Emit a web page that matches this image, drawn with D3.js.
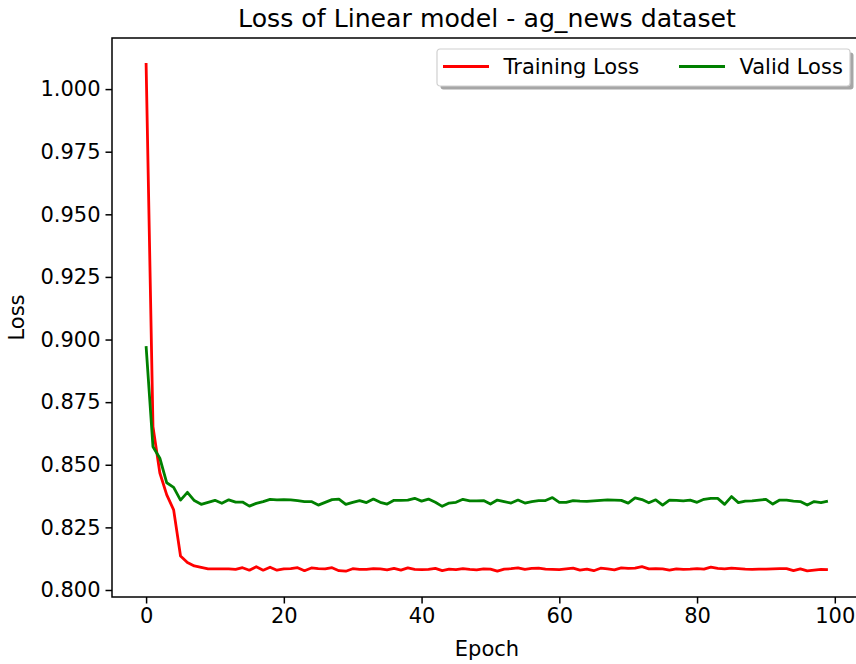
<!DOCTYPE html>
<html>
<head>
<meta charset="utf-8">
<script src="https://cdn.jsdelivr.net/npm/d3@7"></script>
<style>
    html, body { margin: 0; background: #fff; overflow: hidden; width: 856px; height: 664px; }
    .container { width: 856px; height: 664px; overflow: hidden; }
    svg { display: block; overflow: hidden; }
    text { font-family: "DejaVu Sans", sans-serif; fill: #000; }
</style>
</head>
<body>
<div class="container"></div>
<script>
// loss per epoch
let trainLoss = [1.0104, 0.8652, 0.8467, 0.8380, 0.8320, 0.8136, 0.8110, 0.8096, 0.8090, 0.8084,
    0.8084, 0.8084, 0.8084, 0.8082, 0.8089, 0.8079, 0.8093, 0.8079, 0.8091, 0.8079,
    0.8084, 0.8085, 0.8089, 0.8077, 0.8088, 0.8085, 0.8084, 0.8089, 0.8077, 0.8075,
    0.8085, 0.8082, 0.8082, 0.8085, 0.8084, 0.8080, 0.8086, 0.8079, 0.8088, 0.8082,
    0.8081, 0.8082, 0.8086, 0.8077, 0.8083, 0.8081, 0.8085, 0.8082, 0.8080, 0.8084,
    0.8083, 0.8075, 0.8083, 0.8085, 0.8088, 0.8082, 0.8086, 0.8087, 0.8083, 0.8082,
    0.8081, 0.8084, 0.8087, 0.8079, 0.8083, 0.8077, 0.8087, 0.8084, 0.8080, 0.8088,
    0.8086, 0.8087, 0.8093, 0.8084, 0.8085, 0.8084, 0.8079, 0.8084, 0.8082, 0.8083,
    0.8085, 0.8083, 0.8091, 0.8086, 0.8084, 0.8087, 0.8085, 0.8083, 0.8082, 0.8083,
    0.8083, 0.8084, 0.8085, 0.8085, 0.8077, 0.8084, 0.8076, 0.8079, 0.8082, 0.8081];

let validLoss = [0.8974, 0.8572, 0.8526, 0.8428, 0.8410, 0.8359, 0.8390, 0.8357, 0.8342, 0.8350,
    0.8358, 0.8346, 0.8360, 0.8351, 0.8351, 0.8335, 0.8346, 0.8353, 0.8362, 0.8360,
    0.8361, 0.8360, 0.8357, 0.8353, 0.8353, 0.8339, 0.8350, 0.8361, 0.8363, 0.8342,
    0.8350, 0.8357, 0.8349, 0.8363, 0.8350, 0.8343, 0.8358, 0.8358, 0.8359, 0.8366,
    0.8355, 0.8363, 0.8350, 0.8334, 0.8347, 0.8350, 0.8362, 0.8356, 0.8356, 0.8357,
    0.8343, 0.8359, 0.8353, 0.8347, 0.8359, 0.8347, 0.8353, 0.8357, 0.8357, 0.8369,
    0.8350, 0.8350, 0.8357, 0.8355, 0.8354, 0.8356, 0.8358, 0.8360, 0.8359, 0.8358,
    0.8347, 0.8368, 0.8361, 0.8348, 0.8360, 0.8339, 0.8359, 0.8358, 0.8356, 0.8359,
    0.8350, 0.8362, 0.8366, 0.8366, 0.8342, 0.8373, 0.8349, 0.8355, 0.8356, 0.8359,
    0.8362, 0.8343, 0.8359, 0.8359, 0.8355, 0.8353, 0.8339, 0.8353, 0.8349, 0.8355];

let xTicks = [0, 20, 40, 60, 80, 100];
let yTicks = [0.800, 0.825, 0.850, 0.875, 0.900, 0.925, 0.950, 0.975, 1.000];

let seriesNames = ["Training Loss", "Valid Loss"];
let seriesColors = ["#ff0000", "#008000"];

let margin = {
        top: 38,
        right: -6,
        bottom: 67,
        left: 112
    },
    width = 856 - margin.left - margin.right,
    height = 664 - margin.top - margin.bottom;

let root = d3.select(".container")
    .append("svg")
    .attr("width", 856)
    .attr("height", 664)
    .attr("viewBox", "0 0 856 664");

// keep everything inside the 856 px canvas (right spine lies past it)
root.append("clipPath")
    .attr("id", "page")
    .append("rect")
    .attr("width", 856)
    .attr("height", 664);

let svg = root.append("g")
    .attr("clip-path", "url(#page)")
    .append("g")
    .attr("transform",
        "translate(" + margin.left + "," + margin.top + ")");

let x = d3.scaleLinear()
    .domain([-4.95, 103.95])
    .range([0, width]);

let y = d3.scaleLinear()
    .domain([0.7972, 1.0204])
    .range([height, 0]);

let fontSize = 21;

// axes
let xAxis = svg.append("g")
    .attr("transform", "translate(0," + height + ")")
    .call(d3.axisBottom(x).tickValues(xTicks).tickFormat(d3.format("d")).tickSizeOuter(0).tickSize(6.5).tickPadding(5));

let yAxis = svg.append("g")
    .call(d3.axisLeft(y).tickValues(yTicks).tickFormat(d3.format(".3f")).tickSizeOuter(0).tickSize(6.5).tickPadding(5));

[xAxis, yAxis].forEach(a => {
    a.selectAll("text")
        .style("font-size", fontSize + "px")
        .style("font-family", "DejaVu Sans, sans-serif")
        .attr("fill", "#000");
    a.selectAll("line").attr("stroke", "#000").attr("stroke-width", 1.5);
    a.select(".domain").remove();
});

// frame
svg.append("rect")
    .attr("x", 0)
    .attr("y", 0)
    .attr("width", width)
    .attr("height", height)
    .attr("fill", "none")
    .attr("stroke", "#000")
    .attr("stroke-width", 1.5);

// lines
let line = d3.line()
    .x((d, i) => x(i))
    .y(d => y(d));

[trainLoss, validLoss].forEach((s, k) => {
    svg.append("path")
        .datum(s)
        .attr("fill", "none")
        .attr("stroke", seriesColors[k])
        .attr("stroke-width", 2.8)
        .attr("stroke-linejoin", "round")
        .attr("d", line);
});

// title and labels
svg.append("text")
    .attr("x", 375)
    .attr("y", -11)
    .attr("text-anchor", "middle")
    .style("font-size", "25.2px")
    .text("Loss of Linear model - ag_news dataset");

svg.append("text")
    .attr("x", 375)
    .attr("y", height + 59)
    .attr("text-anchor", "middle")
    .style("font-size", fontSize + "px")
    .text("Epoch");

svg.append("text")
    .attr("transform", "translate(" + (-88) + "," + (height / 2) + ") rotate(-90)")
    .attr("text-anchor", "middle")
    .style("font-size", fontSize + "px")
    .text("Loss");

// legend
let legend = svg.append("g")
    .attr("transform", "translate(" + (437 - margin.left) + "," + (49 - margin.top) + ")");

legend.append("rect")
    .attr("x", 3.5)
    .attr("y", 3.5)
    .attr("width", 413)
    .attr("height", 37)
    .attr("rx", 3)
    .attr("fill", "#808080")
    .attr("opacity", 0.7);

legend.append("rect")
    .attr("width", 413)
    .attr("height", 37)
    .attr("rx", 3)
    .attr("fill", "#fff")
    .attr("stroke", "#d0d0d0")
    .attr("stroke-width", 1.2);

let itemX = [6, 242];
seriesNames.forEach((name, k) => {
    legend.append("line")
        .attr("x1", itemX[k])
        .attr("x2", itemX[k] + 46)
        .attr("y1", 17.5)
        .attr("y2", 17.5)
        .attr("stroke", seriesColors[k])
        .attr("stroke-width", 2.8);
    legend.append("text")
        .attr("x", itemX[k] + 60.5)
        .attr("y", 25)
        .style("font-size", fontSize + "px")
        .text(name);
});
</script>
</body>
</html>
